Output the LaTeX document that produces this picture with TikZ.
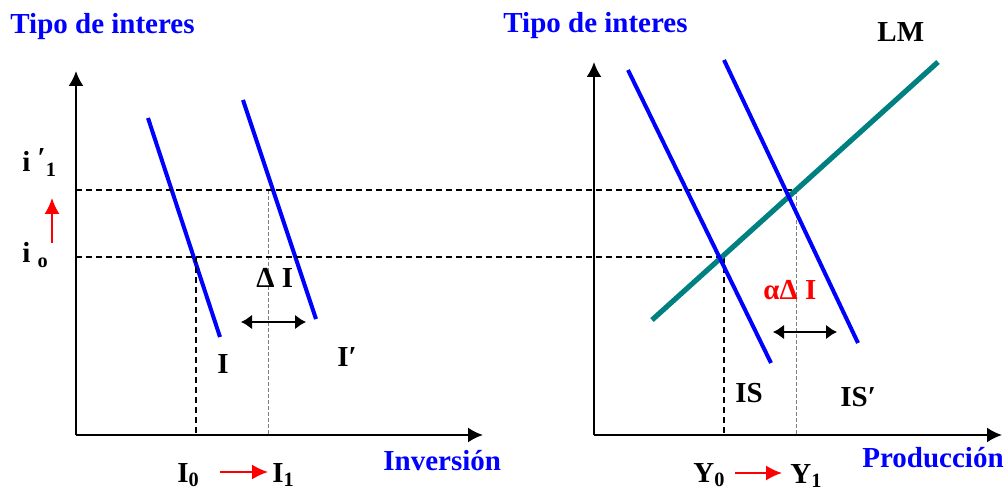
\documentclass[tikz,border=0pt]{standalone}
\usepackage{fontspec}
\setmainfont{Liberation Serif}
\usetikzlibrary{arrows.meta}
\definecolor{sched}{HTML}{0000FF}
\definecolor{lmteal}{HTML}{008080}
\definecolor{shiftred}{HTML}{FF0000}
\newcommand{\lowidx}[1]{\textsubscript{#1}}

\begin{document}
\begin{tikzpicture}[x=0.5pt,y=-0.5pt,
  font=\fontsize{14.5}{17}\selectfont\bfseries,
  axis/.style={line width=1pt,-{Latex[length=7.5pt,width=7.5pt]}},
  curveline/.style={sched,line width=2pt},
  guide/.style={line width=0.8pt,dash pattern=on 3pt off 2pt},
  faint/.style={gray,line width=0.4pt,dash pattern=on 2pt off 1pt},
  widen/.style={line width=1.3pt,
    {Latex[length=5.5pt,width=7.5pt]}-{Latex[length=5.5pt,width=7.5pt]}},
  push/.style={shiftred,line width=0.9pt,-{Latex[length=8pt,width=7.5pt]}},
  lbl/.style={inner sep=0pt,anchor=base west}]
  \useasboundingbox (0,0) rectangle (1006,491);

  % Investment panel
  \coordinate (O1) at (76,435);
  \coordinate (Y1top) at (76,71);
  \coordinate (X1end) at (483,435);
  \coordinate (rateHi) at (76,190);
  \coordinate (rateLo) at (76,257);
  \coordinate (Ia) at (148,118);
  \coordinate (Ib) at (220,337);
  \coordinate (Ipa) at (243,100);
  \coordinate (Ipb) at (316,319);
  \coordinate (invLo) at (196,257);
  \coordinate (invLoB) at (196,435);
  \coordinate (invHi) at (268,190);
  \coordinate (invHiB) at (268,435);
  \coordinate (dIa) at (241,322);
  \coordinate (dIb) at (306,322);
  \draw[axis] (O1)--(Y1top);
  \draw[axis] (O1)--(X1end);
  \draw[curveline] (Ia)--(Ib);
  \draw[curveline] (Ipa)--(Ipb);
  \draw[guide] (invLo)--(invLoB);
  \draw[faint] (invHi)--(invHiB);
  \draw[widen] (dIa)--(dIb);
  \node[lbl,text=sched] (tipoL) at (10,34) {Tipo de interes};
  \node[lbl] (iHi) at (22,172) {i \raisebox{2pt}{′}\lowidx{1}};
  \node[lbl] (iLo) at (22,263) {i \lowidx{o}};
  \node[lbl] (dI) at (256,288) {Δ I};
  \node[lbl] (Ilab) at (217,373) {I};
  \node[lbl] (Iplab) at (337,367) {I′};
  \node[lbl] (I0) at (177,482) {I\lowidx{0}};
  \node[lbl] (I1) at (272,482) {I\lowidx{1}};
  \node[lbl,text=sched] (inv) at (383,470) {Inversión};
  \coordinate (riseA) at (52,243);
  \coordinate (riseB) at (52,198);
  \coordinate (invA) at (220,472);
  \coordinate (invB) at (268,472);
  \draw[push] (riseA)--(riseB);
  \draw[push] (invA)--(invB);

  % IS-LM panel
  \coordinate (O2) at (594,435);
  \coordinate (Y2top) at (594,62);
  \coordinate (X2end) at (1002,435);
  \coordinate (ISa) at (628,70);
  \coordinate (ISb) at (771,363);
  \coordinate (ISpa) at (724,60);
  \coordinate (ISpb) at (858,343);
  \coordinate (LMa) at (652,320);
  \coordinate (LMb) at (938,62);
  \coordinate (outLo) at (724,257);
  \coordinate (outLoB) at (724,435);
  \coordinate (outHi) at (796,190);
  \coordinate (outHiB) at (796,435);
  \coordinate (aIa) at (773,332);
  \coordinate (aIb) at (837,332);
  \draw[axis] (O2)--(Y2top);
  \draw[axis] (O2)--(X2end);
  \draw[guide] (rateHi)--(outHi);
  \draw[guide] (rateLo)--(outLo);
  \draw[guide] (outLo)--(outLoB);
  \draw[faint] (outHi)--(outHiB);
  \draw[lmteal,line width=2.6pt] (LMa)--(LMb);
  \draw[curveline] (ISa)--(ISb);
  \draw[curveline] (ISpa)--(ISpb);
  \draw[widen] (aIa)--(aIb);
  \node[lbl,text=sched] (tipoR) at (503,33) {Tipo de interes};
  \node[lbl] (LM) at (877,42) {LM};
  \node[lbl,text=shiftred] (adI) at (763,300) {αΔ I};
  \node[lbl] (IS) at (735,402) {IS};
  \node[lbl] (ISp) at (840,407) {IS′};
  \node[lbl] (Y0) at (693,482) {Y\lowidx{0}};
  \node[lbl] (Y1) at (790,483) {Y\lowidx{1}};
  \node[lbl,text=sched] (prod) at (862,467) {Producción};
  \coordinate (outA) at (735,473);
  \coordinate (outB) at (782,473);
  \draw[push] (outA)--(outB);
\end{tikzpicture}
\end{document}
